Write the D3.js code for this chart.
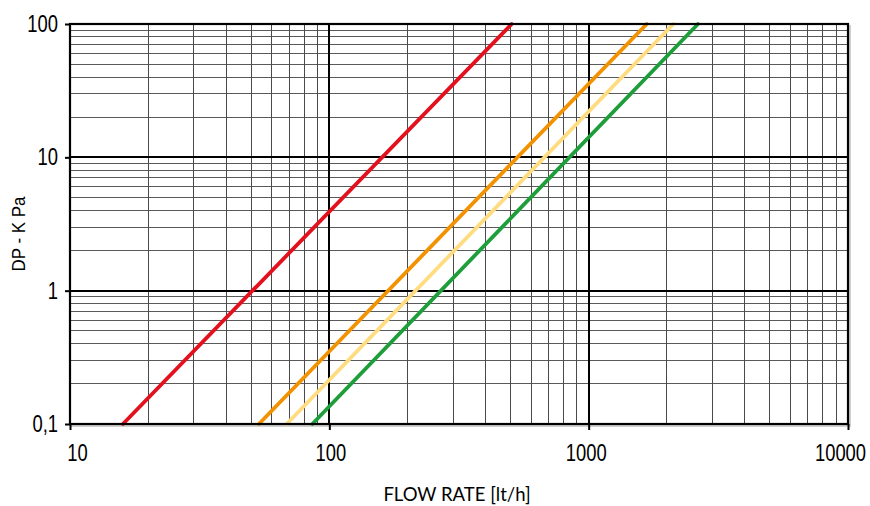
<!DOCTYPE html>
<html><head><meta charset="utf-8">
<script src="https://cdn.jsdelivr.net/npm/d3@7"></script>
<style>
html,body{margin:0;padding:0;background:#fff;}
svg{display:block;}
</style></head>
<body>
<svg id="chart" width="870" height="506"></svg>
<script>
// ---- data ----
const seriesNames = ["red", "orange", "yellow", "green"];
const seriesColors = ["#e3101e", "#f39200", "#ffdc7f", "#1e9e3a"];
const dpPoints = [0.1, 100];              // DP - K Pa
const flowRed = [16.0, 505];              // lt/h at dp 0.1 and 100
const flowOrange = [53.5, 1675];
const flowYellow = [68.5, 2120];
const flowGreen = [86.0, 2640];
const xTickValues = [10, 100, 1000, 10000];
const xTickLabels = ["10", "100", "1000", "10000"];
const yTickValues = [0.1, 1, 10, 100];
const yTickLabels = ["0,1", "1", "10", "100"];

const flows = [flowRed, flowOrange, flowYellow, flowGreen];

// ---- layout ----
const L = 70, R = 848, T = 24, B = 424;
const svg = d3.select("#chart");
const x = d3.scaleLog().domain([10, 10000]).range([L, R]);
const y = d3.scaleLog().domain([0.1, 100]).range([B, T]);
const tickFont = "'Liberation Sans', Arial, sans-serif";
const narrow = 0.8;

// minor grid values
const xMinor = [], yMinor = [];
[10, 100, 1000].forEach(d => { for (let k = 2; k <= 9; k++) xMinor.push(d * k); });
[0.1, 1, 10].forEach(d => { for (let k = 2; k <= 9; k++) yMinor.push(+(d * k).toPrecision(3)); });

// frame shadow
svg.append("rect").attr("x", L + 2).attr("y", T + 2).attr("width", R - L).attr("height", B - T)
  .attr("fill", "none").attr("stroke", "#cfcfcf").attr("stroke-width", 2);
svg.append("rect").attr("x", L).attr("y", T).attr("width", R - L).attr("height", B - T).attr("fill", "#fff");

const grid = svg.append("g").attr("shape-rendering", "crispEdges");
grid.selectAll("line.hm").data(yMinor).join("line")
  .attr("x1", L).attr("x2", R).attr("y1", d => y(d)).attr("y2", d => y(d))
  .attr("stroke", "#5a5a5a").attr("stroke-width", 1);
grid.selectAll("line.vm").data(xMinor).join("line")
  .attr("y1", T).attr("y2", B).attr("x1", d => x(d)).attr("x2", d => x(d))
  .attr("stroke", "#4a4a4a").attr("stroke-width", 1);
grid.selectAll("line.hM").data(yTickValues).join("line")
  .attr("x1", L).attr("x2", R).attr("y1", d => y(d)).attr("y2", d => y(d))
  .attr("stroke", "#000").attr("stroke-width", 2);
grid.selectAll("line.vM").data(xTickValues).join("line")
  .attr("y1", T).attr("y2", B).attr("x1", d => x(d)).attr("x2", d => x(d))
  .attr("stroke", "#000").attr("stroke-width", 2);

// curves
const line = d3.line().x(d => x(d[0])).y(d => y(d[1]));
const curves = svg.append("g");
flows.forEach((f, i) => {
  const pts = f.map((q, j) => [q, dpPoints[j]]);
  curves.append("path").datum(pts).attr("d", line)
    .attr("fill", "none").attr("stroke", seriesColors[i])
    .attr("stroke-width", 3.8).attr("stroke-linecap", "round");
});

// frame
svg.append("rect").attr("x", L).attr("y", T).attr("width", R - L).attr("height", B - T)
  .attr("fill", "none").attr("stroke", "#000").attr("stroke-width", 2.2);

// axes
const xAxis = d3.axisBottom(x).tickValues(xTickValues)
  .tickFormat((d, i) => xTickLabels[i]).tickSize(6).tickSizeOuter(0);
const gx = svg.append("g").attr("transform", `translate(0,${B})`).call(xAxis);
gx.select(".domain").remove();
gx.selectAll(".tick line").attr("stroke", "#000").attr("stroke-width", 2);
gx.selectAll(".tick text")
  .attr("font-family", tickFont).attr("font-size", 23).attr("fill", "#000")
  .attr("y", 21).attr("dy", "0.71em")
  .attr("transform", (d, i) => {
    const dx = i === 0 ? 7 : (i === xTickValues.length - 1 ? -8 : (i === 2 ? -3 : 1));
    return `translate(${dx},0) scale(${narrow},1)`;
  });

const yAxis = d3.axisLeft(y).tickValues(yTickValues)
  .tickFormat((d, i) => yTickLabels[i]).tickSize(5).tickSizeOuter(0);
const gy = svg.append("g").attr("transform", `translate(${L},0)`).call(yAxis);
gy.select(".domain").remove();
gy.selectAll(".tick line").attr("stroke", "#000").attr("stroke-width", 2);
gy.selectAll(".tick text")
  .attr("font-family", tickFont).attr("font-size", 23).attr("fill", "#000")
  .attr("x", 0).attr("transform", `translate(-12,0) scale(${narrow},1)`);

// axis titles
svg.append("text").attr("x", 457).attr("y", 501).attr("text-anchor", "middle")
  .attr("font-family", "Lato, 'Open Sans', sans-serif").attr("font-size", 18.5).attr("fill", "#000")
  .text("FLOW RATE [lt/h]");
svg.append("text").attr("transform", "translate(25,234) rotate(-90)").attr("text-anchor", "middle")
  .attr("font-family", tickFont).attr("font-size", 18.5).attr("fill", "#000")
  .attr("textLength", 75).attr("lengthAdjust", "spacingAndGlyphs")
  .text("DP - K Pa");
</script>
</body></html>
